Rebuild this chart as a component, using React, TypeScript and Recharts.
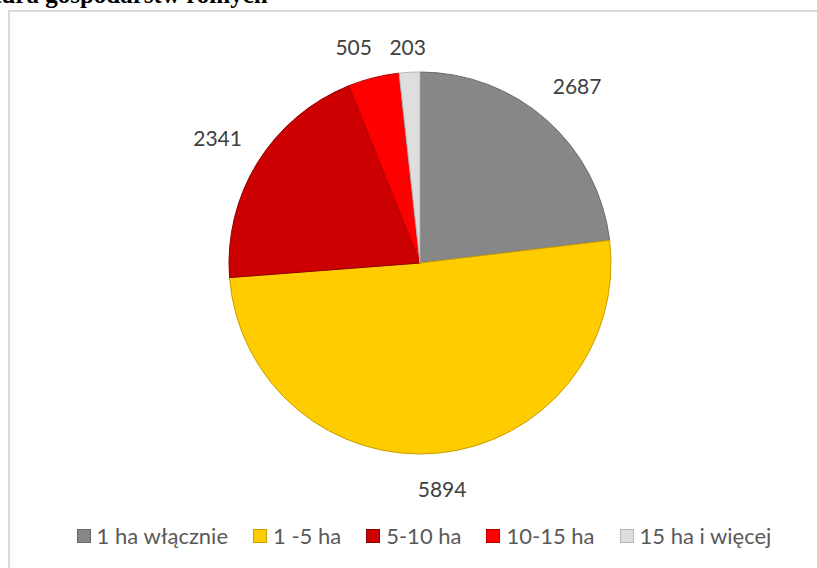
import React from 'react';
import { PieChart, Pie, Cell } from 'recharts';

// Chart data
const categories = ['1 ha włącznie', '1 -5 ha', '5-10 ha', '10-15 ha', '15 ha i więcej'];
const values = [2687, 5894, 2341, 505, 203];
const colors = ['#878787', '#FFCC00', '#CC0000', '#FF0000', '#DEDEDE'];
const strokes = ['#6a6a6a', '#c79e00', '#8f0000', '#b80000', '#b5b5b5'];

const data = categories.map((name, i) => ({ name, value: values[i] }));

const RADIAN = Math.PI / 180;
const FONT = 'Lato, "Open Sans", sans-serif';
const CX = 420;
const CY = 263;
const R = 191;
const LABEL_GAP = 18;
const LABEL_TOP = 46;

// outside-end label centres, pushed apart when two neighbours collide
const labelPos = (() => {
  const total = values.reduce((a, b) => a + b, 0);
  let acc = 0;
  const pos = values.map((v) => {
    const mid = 90 - ((acc + v / 2) / total) * 360;
    acc += v;
    const cos = Math.cos(mid * RADIAN);
    const sin = -Math.sin(mid * RADIAN);
    const w = String(v).length * 12;
    const r = R + 20 + Math.abs(cos) * w / 2 + Math.abs(sin) * 13;
    return { x: CX + r * cos, y: Math.max(LABEL_TOP, CY + r * sin), w };
  });
  for (let i = pos.length - 1; i > 0; i--) {
    const a = pos[i - 1];
    const b = pos[i];
    if (Math.abs(a.y - b.y) < 24) {
      const minDx = a.w / 2 + b.w / 2 + LABEL_GAP;
      if (b.x - a.x < minDx && a.x < CX) a.x = b.x - minDx;
    }
  }
  return pos;
})();

const renderLabel = (props: any) => {
  const { index, value } = props;
  const p = labelPos[index];
  return (
    <text x={p.x} y={p.y} fill="#404040" fontSize={21} fontFamily={FONT} textAnchor="middle" dominantBaseline="central">
      {value}
    </text>
  );
};

const ChartLegend = () => (
  <div
    style={{
      position: 'absolute',
      left: 8,
      top: 523,
      width: 832,
      display: 'flex',
      justifyContent: 'center',
      gap: 25,
      fontFamily: FONT,
      fontSize: 22,
      color: '#595959',
      lineHeight: '26px',
    }}
  >
    {categories.map((c, i) => (
      <div key={c} style={{ display: 'flex', alignItems: 'center' }}>
        <span
          style={{
            display: 'inline-block',
            width: 12,
            height: 12,
            background: colors[i],
            border: `1px solid ${strokes[i]}`,
            marginRight: 6,
          }}
        />
        <span>{c}</span>
      </div>
    ))}
  </div>
);

export default function App() {
  return (
    <div style={{ position: 'absolute', left: 0, top: 0, width: 817, height: 568, overflow: 'hidden', background: '#fff' }}>
      {/* clipped caption above the chart frame */}
      <svg width={817} height={20} style={{ position: 'absolute', left: 0, top: 0 }}>
        <text x={-68} y={3} fontFamily='"Liberation Serif", "Times New Roman", serif' fontWeight="bold" fontSize={25} fill="#000">
          Struktura gospodarstw rolnych
        </text>
      </svg>
      <div
        style={{
          position: 'absolute',
          left: 8,
          top: 10,
          width: 840,
          height: 600,
          border: '2px solid #dadada',
          boxSizing: 'border-box',
        }}
      />
      <div style={{ position: 'absolute', left: 0, top: 0 }}>
        <PieChart width={817} height={568} margin={{ top: 0, right: 0, bottom: 0, left: 0 }}>
          <Pie
            data={data}
            dataKey="value"
            nameKey="name"
            cx={CX}
            cy={CY}
            outerRadius={R}
            startAngle={90}
            endAngle={-270}
            label={renderLabel}
            labelLine={false}
            isAnimationActive={false}
          >
            {data.map((d, i) => (
              <Cell key={d.name} fill={colors[i]} stroke={strokes[i]} strokeWidth={1} />
            ))}
          </Pie>
        </PieChart>
      </div>
      <ChartLegend />
    </div>
  );
}
